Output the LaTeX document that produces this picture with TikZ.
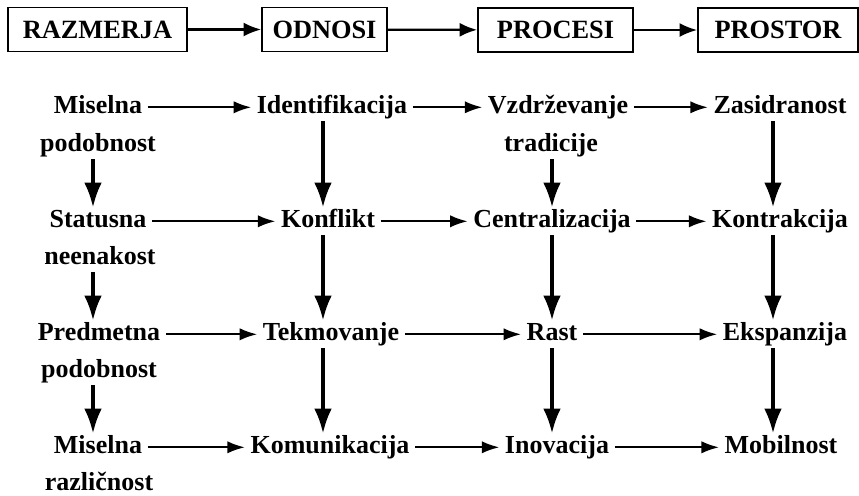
\documentclass[tikz,border=0pt]{standalone}
\usepackage{fontspec}
\setmainfont{Liberation Serif}
\usetikzlibrary{arrows.meta}
\tikzset{
  beseda/.style={font=\fontsize{14.8}{17}\selectfont\bfseries, anchor=base,
    text height=10pt, text depth=3.5pt, inner xsep=3pt, inner ysep=1pt},
  okvir/.style={draw, line width=1pt, font=\fontsize{15}{17}\selectfont\bfseries,
    text height=10pt, text depth=0pt, minimum height=0.88cm, inner sep=0pt},
  gpuscica/.style={line width=1.3pt, -{Latex[length=10pt,width=8pt]}},
  hpuscica/.style={line width=1.2pt, -{Latex[length=10pt,width=7pt]}},
  vpuscica/.style={line width=1.8pt, -{Latex[length=14pt,width=10pt]}},
}
\begin{document}
\begin{tikzpicture}[x=0.02cm, y=-0.02cm]
            \useasboundingbox (0,0) rectangle (859,495);
            % glava
            \node[okvir, minimum width=3.58cm] (razm) at (97.5,29.5) {RAZMERJA};
            \node[okvir, minimum width=2.5cm] (odno) at (324.5,29.5) {ODNOSI};
            \node[okvir, minimum width=3.1cm] (proc) at (555.5,30) {PROCESI};
            \node[okvir, minimum width=3.2cm] (pros) at (778,30) {PROSTOR};
            \foreach \a/\b in {razm/odno, odno/proc, proc/pros}
            {
                \draw[gpuscica] (\a) -- (\b);
            };

            % stolpci za navpicne puscice
            \coordinate (s1) at (93,0);
            \coordinate (s2) at (323,0);
            \coordinate (s3) at (552,0);
            \coordinate (s4) at (773,0);

            \node[beseda] (mis) at (98,113) {Miselna};
            \node[beseda] (pod) at (98,151) {podobnost};
            \node[beseda] (ide) at (332,113) {Identifikacija};
            \node[beseda] (vzd) at (558,113) {Vzdrževanje};
            \node[beseda] (tra) at (551,151) {tradicije};
            \node[beseda] (zas) at (780,113) {Zasidranost};

            \node[beseda] (sta) at (98,227) {Statusna};
            \node[beseda] (nee) at (100,264) {neenakost};
            \node[beseda] (kof) at (328,227) {Konflikt};
            \node[beseda] (cen) at (552,227) {Centralizacija};
            \node[beseda] (kot) at (780,227) {Kontrakcija};

            \node[beseda] (pre) at (99,340) {Predmetna};
            \node[beseda] (pdb) at (99,377) {podobnost};
            \node[beseda] (tek) at (331,340) {Tekmovanje};
            \node[beseda] (ras) at (552,340) {Rast};
            \node[beseda] (eks) at (785,340) {Ekspanzija};

            \node[beseda] (msl) at (98,453) {Miselna};
            \node[beseda] (rzl) at (99,490) {različnost};
            \node[beseda] (kom) at (330,453) {Komunikacija};
            \node[beseda] (ino) at (557,453) {Inovacija};
            \node[beseda] (mob) at (781,453) {Mobilnost};

            \foreach \a/\b in {mis/ide, ide/vzd, vzd/zas, sta/kof, kof/cen, cen/kot,
                pre/tek, tek/ras, ras/eks, msl/kom, kom/ino, ino/mob}
            {
                \draw[hpuscica] (\a) -- (\b);
            };
            \foreach \a/\b/\s in {pod/sta/s1, nee/pre/s1, pdb/msl/s1,
                ide/kof/s2, kof/tek/s2, tek/kom/s2,
                tra/cen/s3, cen/ras/s3, ras/ino/s3,
                zas/kot/s4, kot/eks/s4, eks/mob/s4}
            {
                \draw[vpuscica] (\a.south -| \s) -- (\b.north -| \s);
            };
\end{tikzpicture}
\end{document}
